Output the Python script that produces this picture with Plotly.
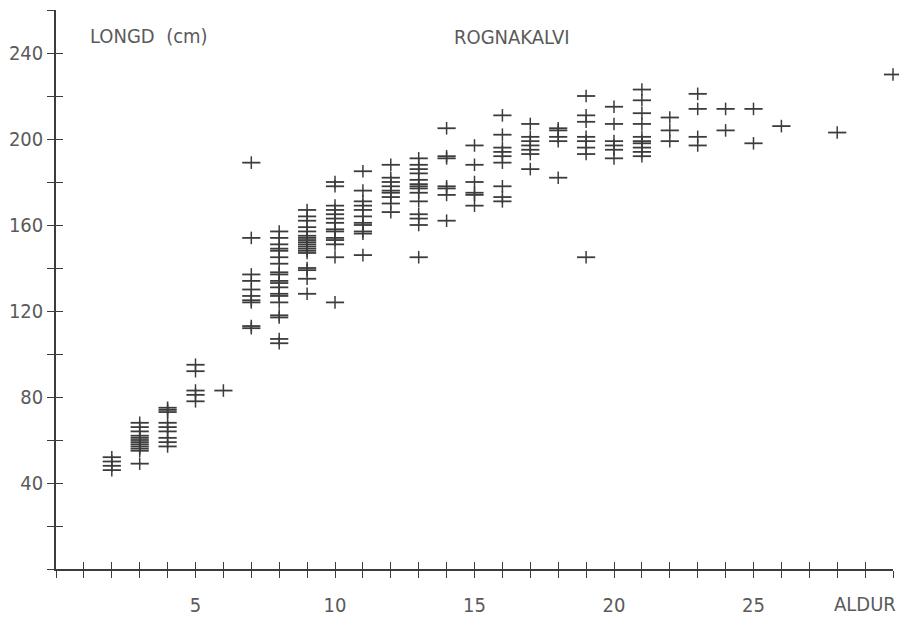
import plotly.graph_objects as go

# ---- data (age in years -> length in cm) ----
ages = [2, 3, 4, 5, 6, 7, 8, 9, 10, 11, 12, 13, 14, 15, 16, 17, 18, 19, 20,
        21, 22, 23, 24, 25, 26, 28, 30]
lengths_by_age = [
    [52, 50, 48, 46],
    [68, 66, 64, 62, 61, 60, 59, 58, 57, 56, 55, 49],
    [75, 74, 73, 68, 66, 64, 61, 59, 57],
    [95, 92, 83, 81, 78],
    [83],
    [189, 154, 137, 134, 130, 127, 125, 124, 113, 112],
    [157, 154, 151, 149, 148, 145, 142, 138, 137, 134, 133, 131, 128, 127, 124, 118, 117, 107, 105],
    [167, 164, 162, 159, 157, 155, 154, 153, 152, 151, 150, 149, 148, 147, 140, 139, 135, 128],
    [180, 178, 169, 167, 165, 163, 161, 158, 157, 154, 153, 151, 145, 124],
    [185, 176, 171, 169, 167, 164, 161, 160, 157, 156, 146],
    [188, 182, 180, 178, 176, 175, 173, 170, 166],
    [191, 188, 186, 184, 181, 179, 178, 177, 175, 171, 165, 163, 160, 145],
    [205, 192, 191, 178, 177, 174, 162],
    [197, 188, 180, 175, 174, 169],
    [211, 202, 196, 194, 192, 189, 178, 173, 171],
    [207, 201, 199, 197, 195, 193, 186],
    [205, 204, 201, 199, 182],
    [220, 211, 208, 201, 199, 196, 193, 145],
    [215, 207, 199, 197, 195, 191],
    [223, 218, 212, 207, 201, 199, 198, 196, 194, 192],
    [210, 204, 199],
    [221, 214, 201, 197],
    [214, 204],
    [214, 198],
    [206],
    [203],
    [230],
]

x_tick_vals = list(range(0, 31))
x_label_vals = [5, 10, 15, 20, 25]
y_tick_vals = list(range(0, 261, 20))
y_label_vals = [40, 80, 120, 160, 200, 240]

title_text = "ROGNAKALVI"
y_title = "LONGD  (cm)"
x_title = "ALDUR"

# ---- flatten ----
xs, ys = [], []
for a, vals in zip(ages, lengths_by_age):
    xs += [a] * len(vals)
    ys += vals

FONT = "Liberation Sans Narrow, DejaVu Sans Condensed, Arial Narrow, sans-serif"
INK = "#3c3c3c"
TXT = "#5a5a5a"

fig = go.Figure()
# horizontal arm of the plus (wider)
fig.add_trace(go.Scatter(x=xs, y=ys, mode="markers", cliponaxis=False,
                         marker=dict(symbol="line-ew", size=13,
                                     line=dict(color=INK, width=1.8)),
                         hoverinfo="x+y", showlegend=False))
# vertical arm of the plus (shorter)
fig.add_trace(go.Scatter(x=xs, y=ys, mode="markers", cliponaxis=False,
                         marker=dict(symbol="line-ns", size=9,
                                     line=dict(color=INK, width=1.5)),
                         hoverinfo="skip", showlegend=False))
# empty trace to create the overlay axes (inner halves of crossing ticks)
fig.add_trace(go.Scatter(x=[], y=[], xaxis="x2", yaxis="y2", showlegend=False))

x_text = [str(v) if v in x_label_vals else "" for v in x_tick_vals]
y_text = [str(v) if v in y_label_vals else "" for v in y_tick_vals]

axis_common = dict(showgrid=False, zeroline=False, tickcolor=INK, tickwidth=1.4,
                   ticklen=7, tickmode="array", automargin=False)

fig.update_layout(
    width=899, height=619,
    margin=dict(l=56, r=6, t=10, b=50),
    paper_bgcolor="white", plot_bgcolor="white",
    font=dict(family=FONT, size=20, color=TXT),
    xaxis=dict(range=[0, 30], tickvals=x_tick_vals, ticktext=x_text,
               ticks="outside", showline=True, linecolor=INK, linewidth=1.5,
               ticklabelstandoff=10, tickfont=dict(size=20, color=TXT),
               **axis_common),
    yaxis=dict(range=[0, 260], tickvals=y_tick_vals, ticktext=y_text,
               ticks="outside", showline=True, linecolor=INK, linewidth=1.5,
               ticklabelstandoff=0, tickfont=dict(size=20, color=TXT),
               **axis_common),
    xaxis2=dict(range=[0, 30], overlaying="x", anchor="y2", side="bottom",
                tickvals=x_tick_vals, ticktext=[""] * len(x_tick_vals),
                ticks="inside", showline=False, **axis_common),
    yaxis2=dict(range=[0, 260], overlaying="y", anchor="x2", side="left",
                tickvals=y_tick_vals, ticktext=[""] * len(y_tick_vals),
                ticks="inside", showline=False, **axis_common),
    annotations=[
        dict(text=y_title, xref="paper", yref="paper", x=0.038, y=0.953,
             xanchor="left", yanchor="middle", showarrow=False,
             font=dict(family=FONT, size=20, color=TXT)),
        dict(text=title_text, xref="paper", yref="paper", x=0.473, y=0.951,
             xanchor="left", yanchor="middle", showarrow=False,
             font=dict(family=FONT, size=20, color=TXT)),
        dict(text=x_title, xref="paper", yref="paper", x=1.0, y=-0.063,
             xanchor="right", yanchor="middle", xshift=5, showarrow=False,
             font=dict(family=FONT, size=20, color=TXT)),
    ],
)

fig.write_html("out.html", config={"displayModeBar": False},
               post_script="document.body.style.margin='0';document.body.style.overflow='hidden';")
